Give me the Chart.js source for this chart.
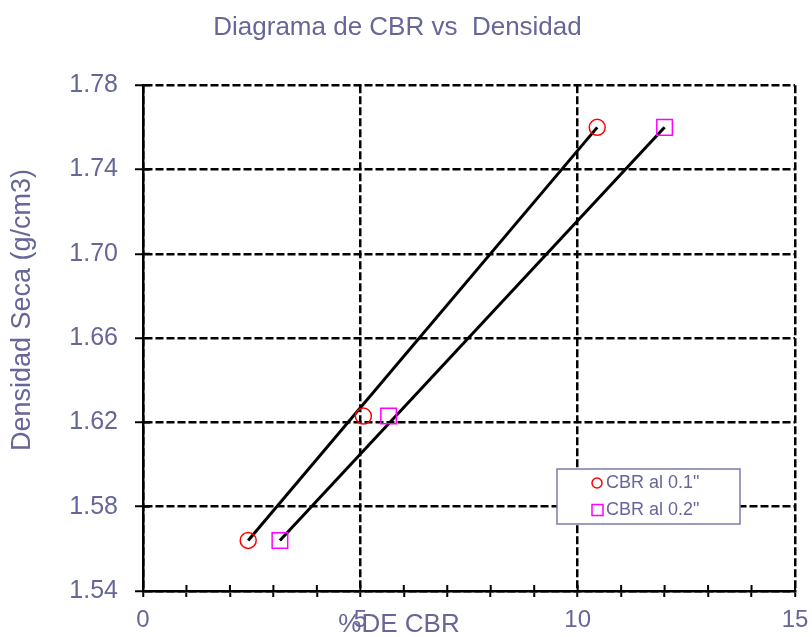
<!DOCTYPE html>
<html>
<head>
<meta charset="utf-8">
<title>Diagrama de CBR vs Densidad</title>
<script src="https://cdn.jsdelivr.net/npm/chart.js@4.4.0/dist/chart.umd.min.js"></script>
<style>
  body { margin: 0; background: #fff; }
  canvas { display: block; }
</style>
</head>
<body>
<canvas id="cbrChart" width="812" height="637"></canvas>
<script>
// densidad seca (g/cm3) de cada punto del ensayo
var densidad = [1.564, 1.623, 1.760];
// % CBR leido a 0.1" y a 0.2" de penetracion
var cbr01 = [2.42, 5.07, 10.45];
var cbr02 = [3.15, 5.65, 12.0];
// marcas de los ejes
var xLabels = [0, 5, 10, 15];
var yTicks = [1.54, 1.58, 1.62, 1.66, 1.70, 1.74, 1.78];

var textColor = '#666699';
var fontName = '"Liberation Sans", Arial, sans-serif';

function points(xs, ys) {
  return xs.map(function(x, i) { return { x: x, y: ys[i] }; });
}

// recta que une el primer y el ultimo punto de la serie
function recta(xs, ys) {
  var n = xs.length - 1;
  return [{ x: xs[0], y: ys[0] }, { x: xs[n], y: ys[n] }];
}

// titulos de los ejes
var axisTitles = {
  id: 'axisTitles',
  afterDraw: function(chart) {
    var ctx = chart.ctx;
    ctx.save();
    ctx.fillStyle = textColor;
    ctx.textAlign = 'center';
    ctx.textBaseline = 'middle';
    ctx.font = '26px ' + fontName;
    ctx.fillText('%DE CBR', 399, 625);
    ctx.font = '27px ' + fontName;
    ctx.translate(23, 310);
    ctx.rotate(-Math.PI / 2);
    ctx.fillText('Densidad Seca (g/cm3)', 0, 0);
    ctx.restore();
  }
};

// las marcas de los ejes cruzan la linea del eje
var innerTicks = {
  id: 'innerTicks',
  afterDraw: function(chart) {
    var ctx = chart.ctx, area = chart.chartArea;
    var xs = chart.scales.x, ys = chart.scales.y;
    ctx.save();
    ctx.strokeStyle = '#000';
    ctx.lineWidth = 2;
    ctx.beginPath();
    xs.ticks.forEach(function(t) {
      var px = xs.getPixelForValue(t.value);
      ctx.moveTo(px, area.bottom);
      ctx.lineTo(px, area.bottom - 6);
    });
    ys.ticks.forEach(function(t) {
      var py = ys.getPixelForValue(t.value);
      ctx.moveTo(area.left, py);
      ctx.lineTo(area.left + 7, py);
    });
    ctx.stroke();
    ctx.restore();
  }
};

// leyenda dentro del area del grafico
var boxLegend = {
  id: 'boxLegend',
  afterDraw: function(chart) {
    var ctx = chart.ctx;
    var items = chart.data.datasets.slice(0, 2);
    ctx.save();
    ctx.fillStyle = '#fff';
    ctx.fillRect(557, 469, 183, 55);
    ctx.strokeStyle = '#7b7bab';
    ctx.lineWidth = 1.5;
    ctx.strokeRect(557, 469, 183, 55);
    ctx.font = '18px ' + fontName;
    ctx.textBaseline = 'middle';
    items.forEach(function(ds, i) {
      var y = 483 + i * 27;
      ctx.strokeStyle = ds.borderColor;
      ctx.lineWidth = 1.5;
      ctx.beginPath();
      if (ds.pointStyle === 'rect') {
        ctx.rect(592, y - 5.5, 11, 11);
      } else {
        ctx.arc(597, y, 5, 0, Math.PI * 2);
      }
      ctx.stroke();
      ctx.fillStyle = textColor;
      ctx.fillText(ds.label, 606, y);
    });
    ctx.restore();
  }
};

var ctx = document.getElementById('cbrChart').getContext('2d');

var cbrChart = new Chart(ctx, {
  type: 'scatter',
  data: {
    datasets: [{
      label: 'CBR al 0.1"',
      data: points(cbr01, densidad),
      pointStyle: 'circle',
      pointRadius: 8,
      pointBorderWidth: 1.5,
      borderColor: '#ff0000',
      backgroundColor: 'rgba(0,0,0,0)'
    }, {
      label: 'CBR al 0.2"',
      data: points(cbr02, densidad),
      pointStyle: 'rect',
      pointRadius: 11,
      pointBorderWidth: 1.5,
      borderColor: '#ff00ff',
      backgroundColor: 'rgba(0,0,0,0)'
    }, {
      label: 'recta 0.1',
      data: recta(cbr01, densidad),
      showLine: true,
      pointRadius: 0,
      borderColor: '#000',
      borderWidth: 3
    }, {
      label: 'recta 0.2',
      data: recta(cbr02, densidad),
      showLine: true,
      pointRadius: 0,
      borderColor: '#000',
      borderWidth: 3
    }]
  },
  options: {
    responsive: false,
    animation: false,
    layout: {
      padding: { left: 0, right: 17, top: 0, bottom: 0 }
    },
    scales: {
      x: {
        type: 'linear',
        min: 0,
        max: 15,
        afterFit: function(scale) {
          scale.height = 46;
          scale.paddingRight = 0;
        },
        ticks: {
          stepSize: 1,
          padding: 9,
          maxRotation: 0,
          autoSkip: false,
          color: textColor,
          font: { family: fontName, size: 24 },
          callback: function(v) { return xLabels.indexOf(v) >= 0 ? String(v) : ''; }
        },
        grid: {
          color: function(c) {
            return c.tick && xLabels.indexOf(c.tick.value) >= 0 ? '#000' : 'rgba(0,0,0,0)';
          },
          lineWidth: 2.5,
          tickColor: '#000',
          tickLength: 6,
          tickWidth: 2
        },
        border: { color: '#000', width: 2.5, dash: [8, 3] }
      },
      y: {
        type: 'linear',
        min: 1.54,
        max: 1.78,
        afterFit: function(scale) { scale.width = 143; },
        afterBuildTicks: function(scale) {
          scale.ticks = yTicks.map(function(v) { return { value: v }; });
        },
        ticks: {
          padding: 17,
          color: textColor,
          font: { family: fontName, size: 25 },
          callback: function(v) { return Number(v).toFixed(2); }
        },
        grid: {
          color: '#000',
          lineWidth: 2.5,
          tickColor: '#000',
          tickLength: 8,
          tickWidth: 2
        },
        border: { color: '#000', width: 2.5, dash: [8, 3] }
      }
    },
    plugins: {
      legend: { display: false },
      tooltip: { enabled: false },
      title: {
        display: true,
        text: 'Diagrama de CBR vs  Densidad',
        color: textColor,
        font: { family: fontName, size: 26, weight: 'normal' },
        padding: { top: 12, bottom: 42 }
      }
    }
  },
  plugins: [axisTitles, innerTicks, boxLegend]
});
</script>
</body>
</html>
